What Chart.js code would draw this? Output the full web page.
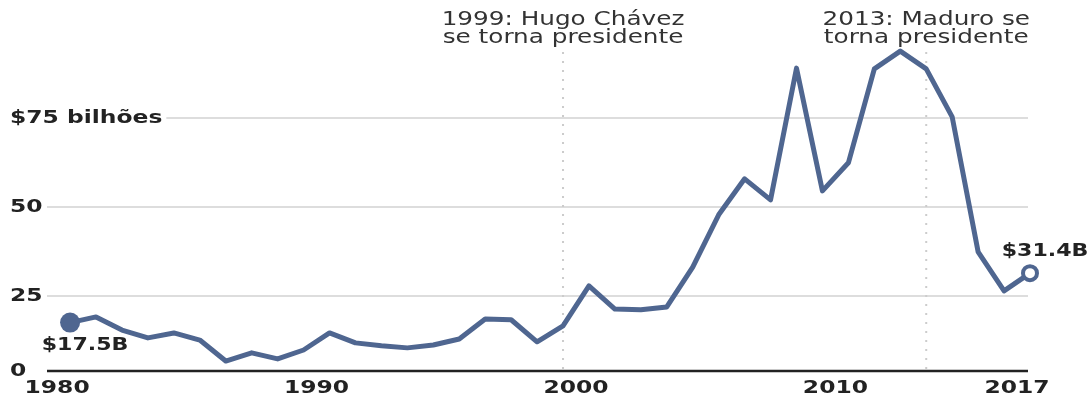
<!DOCTYPE html>
<html>
<head>
<meta charset="utf-8">
<script src="https://cdn.jsdelivr.net/npm/chart.js@4/dist/chart.umd.min.js"></script>
<style>
  body { margin: 0; background: #fff; }
  #wrap { width: 1091px; height: 396px; }
</style>
</head>
<body>
<div id="wrap"><canvas id="exportsChart" width="1091" height="396"></canvas></div>
<script>
var years = [];
for (var y = 1980; y <= 2017; y++) years.push(y);

// exportações, bilhões de US$
var exportsBn = [
  17.5, 19.1, 15.4, 13.2, 14.6, 12.6, 6.7, 9.0, 7.3, 9.8,
  14.6, 11.8, 11.0, 10.4, 11.2, 12.9, 18.5, 18.3, 12.1, 16.6,
  27.8, 21.3, 21.1, 21.9, 33.1, 47.8, 57.9, 52.0, 89.0, 54.5,
  62.4, 88.8, 93.8, 88.8, 75.3, 37.4, 26.4, 31.4
];

var yTicks = [25, 50, 75];
var yTickLabels = ['25', '50', '$75 bilhões'];
var xTicks = [1980, 1990, 2000, 2010, 2017];
var events = [
  { year: 1999, lines: ['1999: Hugo Chávez', 'se torna presidente'] },
  { year: 2013, lines: ['2013: Maduro se', 'torna presidente'] }
];
var endLabels = ['$17.5B', '$31.4B'];

var lineColor = '#4f6690';
var SX = 1.3; // the lettering in the reference is drawn wide

function wideText(ctx, txt, x, y, font, align) {
  ctx.save();
  ctx.font = font;
  var w = ctx.measureText(txt).width * SX;
  var left = x;
  if (align === 'center') left = x - w / 2;
  if (align === 'right') left = x - w;
  ctx.translate(left, y);
  ctx.scale(SX, 1);
  ctx.textAlign = 'left';
  ctx.textBaseline = 'middle';
  ctx.fillText(txt, 0, 0);
  ctx.restore();
  return w;
}

var decorPlugin = {
  id: 'decor',
  beforeDatasetsDraw: function (chart) {
    var ctx = chart.ctx;
    var area = chart.chartArea;
    var xs = chart.scales.x, ys = chart.scales.y;
    var bold = 'bold 18px "DejaVu Sans"';

    ctx.fillStyle = '#222';
    // gridlines + y labels
    for (var i = 0; i < yTicks.length; i++) {
      var py = ys.getPixelForValue(yTicks[i]);
      var w = wideText(ctx, yTickLabels[i], 10, py, bold, 'left');
      var x0 = Math.max(area.left, 10 + w + 4);
      ctx.strokeStyle = '#dddddd';
      ctx.lineWidth = 2;
      ctx.beginPath();
      ctx.moveTo(x0, py);
      ctx.lineTo(area.right - 2, py);
      ctx.stroke();
    }

    // dotted event lines
    ctx.save();
    ctx.strokeStyle = '#cccccc';
    ctx.lineWidth = 2;
    ctx.setLineDash([2, 7]);
    events.forEach(function (ev) {
      var px = xs.getPixelForValue(ev.year);
      ctx.beginPath();
      ctx.moveTo(px, 52);
      ctx.lineTo(px, area.bottom);
      ctx.stroke();
    });
    ctx.restore();

    // baseline
    ctx.strokeStyle = '#222';
    ctx.lineWidth = 2.5;
    ctx.beginPath();
    ctx.moveTo(area.left, area.bottom);
    ctx.lineTo(area.right - 2, area.bottom);
    ctx.stroke();
    ctx.fillStyle = '#222';
    wideText(ctx, '0', 10, area.bottom, bold, 'left');

    // x labels
    xTicks.forEach(function (yr) {
      wideText(ctx, String(yr), xs.getPixelForValue(yr - 0.5), 388, bold, 'center');
    });

    // event notes
    ctx.fillStyle = '#333';
    events.forEach(function (ev) {
      var px = xs.getPixelForValue(ev.year);
      wideText(ctx, ev.lines[0], px, 20, '19px "DejaVu Sans"', 'center');
      wideText(ctx, ev.lines[1], px, 38, '19px "DejaVu Sans"', 'center');
    });
  },
  afterDatasetsDraw: function (chart) {
    var ctx = chart.ctx;
    var pts = chart.getDatasetMeta(0).data;
    var first = pts[0], last = pts[pts.length - 1];
    ctx.fillStyle = '#222';
    wideText(ctx, endLabels[0], first.x + 15, first.y + 23, 'bold 17px "DejaVu Sans"', 'center');
    wideText(ctx, endLabels[1], last.x + 15, last.y - 22, 'bold 17px "DejaVu Sans"', 'center');
  }
};

var n = years.length;
var radii = years.map(function (yr, i) { return i === 0 ? 10 : (i === n - 1 ? 7 : 0); });
var fills = years.map(function (yr, i) { return i === n - 1 ? '#ffffff' : lineColor; });
var borders = years.map(function (yr, i) { return i === n - 1 ? 4 : 0; });

var ctx = document.getElementById('exportsChart').getContext('2d');
var chart = new Chart(ctx, {
  type: 'line',
  data: {
    datasets: [{
      data: years.map(function (yr, i) { return { x: yr, y: exportsBn[i] }; }),
      borderColor: lineColor,
      borderWidth: 5,
      borderJoinStyle: 'round',
      tension: 0,
      clip: false,
      pointRadius: radii,
      pointBackgroundColor: fills,
      pointBorderColor: lineColor,
      pointBorderWidth: borders
    }]
  },
  options: {
    responsive: false,
    animation: false,
    layout: {
      padding: { left: 47, right: 61, top: 29, bottom: 25 }
    },
    plugins: {
      legend: { display: false },
      tooltip: { enabled: false }
    },
    scales: {
      x: { type: 'linear', display: false, min: 1979.11, max: 2017 },
      y: { type: 'linear', display: false, min: 3.9, max: 100 }
    }
  },
  plugins: [decorPlugin]
});
</script>
</body>
</html>
